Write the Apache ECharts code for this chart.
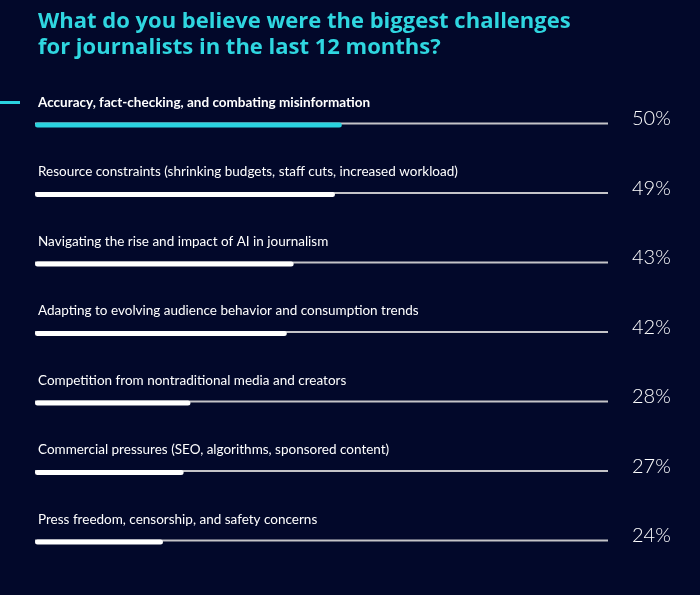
<!DOCTYPE html>
<html><head><meta charset="utf-8">
<script src="https://cdn.jsdelivr.net/npm/echarts@6/dist/echarts.min.js"></script>
<style>html,body{margin:0;padding:0;background:#02082a;}#c{width:700px;height:595px;}</style>
</head><body><div id="c"></div>
<script>
const categories = [
  "Accuracy, fact-checking, and combating misinformation",
  "Resource constraints (shrinking budgets, staff cuts, increased workload)",
  "Navigating the rise and impact of AI in journalism",
  "Adapting to evolving audience behavior and consumption trends",
  "Competition from nontraditional media and creators",
  "Commercial pressures (SEO, algorithms, sponsored content)",
  "Press freedom, censorship, and safety concerns"
];
const values = [50, 49, 43, 42, 28, 27, 24];
const titleText = "What do you believe were the biggest challenges\nfor journalists in the last 12 months?";

const AXIS_MIN = 5.4, AXIS_MAX = 88.7;
const CYAN = '#2ad3e0';
const chart = echarts.init(document.getElementById('c'));
chart.setOption({
  backgroundColor: '#02082a',
  animation: false,
  title: {
    text: titleText, left: 33, top: 4,
    textStyle: { color: '#2fd6e0', fontSize: 22, fontWeight: 'bold', fontFamily: 'Open Sans', lineHeight: 26 }
  },
  grid: { left: 35, right: 92, top: 90.25, bottom: 18.25 },
  xAxis: { type: 'value', min: AXIS_MIN, max: AXIS_MAX, show: false },
  yAxis: [
    { type: 'category', data: categories, inverse: true, show: false },
    { type: 'category', data: categories, inverse: true, position: 'right',
      axisLine: { show: false }, axisTick: { show: false },
      axisLabel: {
        margin: 24, color: '#ffffff', fontSize: 20, fontWeight: 300, fontFamily: 'Lato',
        verticalAlign: 'bottom', lineHeight: 12,
        formatter: (v, i) => values[i] + '%'
      }
    }
  ],
  graphic: [{ type: 'rect', shape: { x: 0, y: 101, width: 20, height: 3 }, style: { fill: CYAN } }],
  series: [
    {
      type: 'bar', name: 'track', barWidth: 2, barGap: '-100%', silent: true,
      data: categories.map((c, i) => i === 0
        ? { value: AXIS_MAX, label: { fontWeight: 'bold' } }
        : AXIS_MAX),
      itemStyle: { color: '#c4c4c8' },
      label: {
        show: true, position: [3, -20], align: 'left', verticalAlign: 'middle',
        color: '#ffffff', fontSize: 13.5, fontFamily: 'Lato',
        formatter: p => categories[p.dataIndex]
      }
    },
    {
      type: 'bar', name: 'value', barWidth: 5, barGap: '-100%', silent: true,
      data: values.map((v, i) => ({ value: v, itemStyle: { color: i === 0 ? CYAN : '#ffffff' } })),
      itemStyle: { borderRadius: 3 }
    }
  ]
});
</script></body></html>
